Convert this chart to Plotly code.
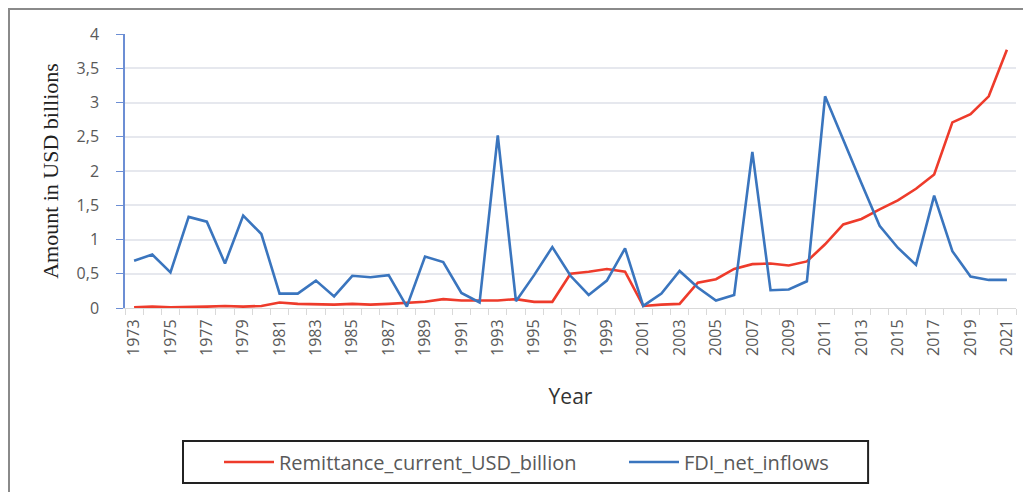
import plotly.graph_objects as go

years = list(range(1973, 2022))

remittance = [0.01, 0.02, 0.01, 0.01, 0.02, 0.03, 0.02, 0.03, 0.08, 0.06,
              0.05, 0.05, 0.06, 0.05, 0.06, 0.07, 0.09, 0.13, 0.11, 0.11,
              0.11, 0.13, 0.09, 0.09, 0.50, 0.53, 0.57, 0.53, 0.03, 0.05,
              0.06, 0.37, 0.42, 0.57, 0.64, 0.65, 0.62, 0.68, 0.93, 1.22,
              1.30, 1.44, 1.57, 1.74, 1.95, 2.71, 2.83, 3.09, 3.77]

fdi = [0.69, 0.78, 0.52, 1.33, 1.26, 0.65, 1.35, 1.08, 0.21, 0.21,
       0.40, 0.17, 0.47, 0.45, 0.48, 0.02, 0.75, 0.67, 0.22, 0.08,
       2.52, 0.10, 0.48, 0.89, 0.47, 0.19, 0.40, 0.87, 0.03, 0.21,
       0.54, 0.30, 0.11, 0.19, 2.28, 0.26, 0.27, 0.39, 3.09, 2.45,
       1.82, 1.20, 0.88, 0.63, 1.64, 0.83, 0.46, 0.41, 0.41]

label_years = [y for y in years if y % 2 == 1]
y_ticks = [0, 0.5, 1, 1.5, 2, 2.5, 3, 3.5, 4]

RED = "#EE3B2B"
BLUE = "#3A75BE"
GRAY = "#595959"

fig = go.Figure()
fig.add_trace(go.Scatter(x=years, y=remittance, mode="lines",
                         name="Remittance_current_USD_billion",
                         line=dict(color=RED, width=2.6)))
fig.add_trace(go.Scatter(x=years, y=fdi, mode="lines",
                         name="FDI_net_inflows",
                         line=dict(color=BLUE, width=2.6)))

# page has an 8px body margin; figure sized to fill the 1031x492 window
fig.update_layout(
    width=1023, height=484,
    margin=dict(l=117, r=15, t=26, b=184, autoexpand=False),
    paper_bgcolor="white", plot_bgcolor="white",
    separators=",.",
    showlegend=True,
    legend=dict(orientation="h", xanchor="left", yanchor="middle",
                x=0.1055, y=-0.562,
                borderwidth=0, bgcolor="rgba(0,0,0,0)",
                font=dict(family="Open Sans", size=20, color=GRAY),
                entrywidth=340, entrywidthmode="pixels",
                itemwidth=50),
    shapes=[
        dict(type="rect", xref="paper", yref="paper",
             x0=-0.1302, x1=1.03, y0=-0.70, y1=1.0912,
             line=dict(color="#8a8a8a", width=2), layer="below"),
        dict(type="rect", xref="paper", yref="paper",
             x0=0.0651, x1=0.834, y0=-0.639, y1=-0.4854,
             line=dict(color="#222222", width=2), layer="below"),
    ],
)

fig.update_xaxes(
    type="linear", range=[1972.5, 2021.5], automargin=False,
    tickmode="array", tickvals=label_years,
    ticktext=[str(y) for y in label_years],
    tickangle=-90, ticks="", showgrid=False, zeroline=False,
    showline=True, linecolor="#d9d9d9", linewidth=1,
    tickfont=dict(family="Open Sans", size=16, color=GRAY),
    ticklabelstandoff=4,
    minor=dict(tickmode="linear", tick0=1972.5, dtick=1, ticks="outside",
               ticklen=6, tickcolor="#d9d9d9", showgrid=False),
    title=dict(text="Year", font=dict(family="Open Sans", size=21, color="#333333"),
               standoff=34),
)

fig.update_yaxes(
    range=[0, 4], automargin=False, tickmode="array", tickvals=y_ticks,
    ticks="outside", ticklen=7, tickcolor="#6C8ED4",
    showline=True, linecolor="#6C8ED4", linewidth=1.5,
    showgrid=True, gridcolor="#E6E8EE", gridwidth=1.5, zeroline=False,
    tickfont=dict(family="Open Sans", size=16, color=GRAY),
    ticklabelstandoff=14,
    title=dict(text="Amount in USD billions",
               font=dict(family="Liberation Serif", size=22, color="#222222"),
               standoff=12),
)

fig.write_html("out.html")
